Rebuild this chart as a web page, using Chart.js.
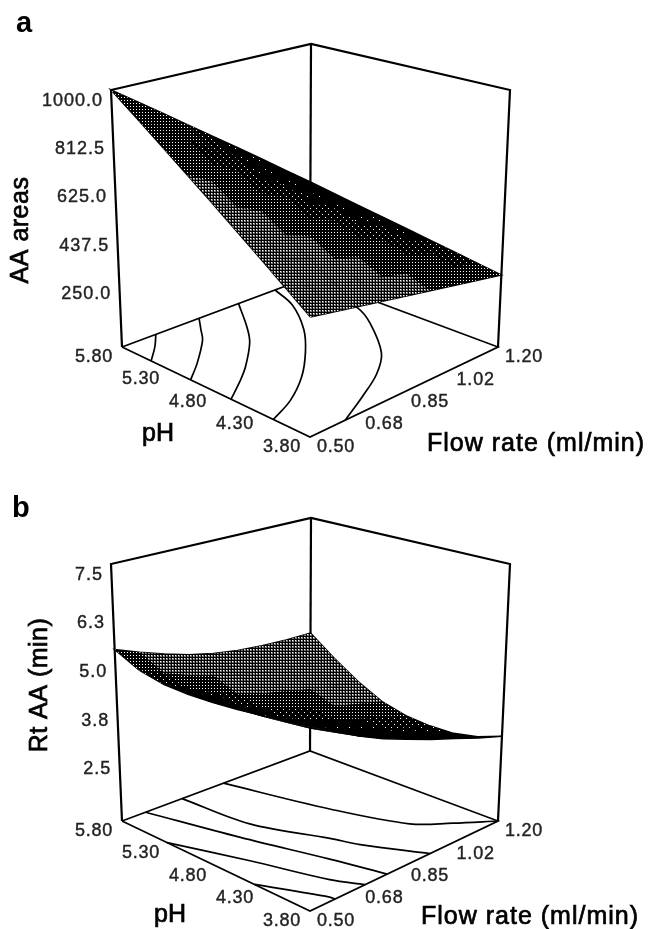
<!DOCTYPE html>
<html>
<head>
<meta charset="utf-8">
<title>AA response surfaces</title>
<script src="https://cdn.jsdelivr.net/npm/chart.js@4"></script>
<style>
  body { margin: 0; background: #fff; }
  canvas { position: absolute; left: 0; }
  #chartA { top: 0; }
  #chartB { top: 474px; }
</style>
</head>
<body>
<canvas id="chartA" width="649" height="470"></canvas>
<canvas id="chartB" width="649" height="455"></canvas>
<script>
const phTicks = [5.8, 5.3, 4.8, 4.3, 3.8];
const flowTicks = [0.5, 0.68, 0.85, 1.02, 1.2];
const aaTicks = [1000, 812.5, 625, 437.5, 250];
const rtTicks = [7.5, 6.25, 5, 3.75, 2.5];

// surface grid, rows run along phGrid, columns along flowGrid
const phGrid = [3.8, 4.05, 4.3, 4.55, 4.8, 5.05, 5.3, 5.55, 5.8];
const flowGrid = [0.5, 0.5875, 0.675, 0.7625, 0.85, 0.9375, 1.025, 1.1125, 1.2];

const aaSurface = [
    [427, 410, 393, 375, 357, 338, 319, 300, 280],
    [493, 468, 443, 418, 394, 370, 345, 320, 295],
    [561, 530, 498, 467, 436, 404, 373, 341, 310],
    [630, 592, 554, 516, 478, 440, 401, 363, 325],
    [701, 656, 611, 566, 521, 476, 431, 386, 341],
    [773, 721, 669, 617, 565, 513, 461, 409, 357],
    [847, 788, 729, 669, 610, 551, 492, 432, 373],
    [923, 856, 790, 723, 657, 590, 523, 457, 390],
    [1000, 932, 863, 791, 718, 644, 567, 488, 408]
];
const rtSurface = [
    [5.25, 4.90, 4.55, 4.25, 4.00, 3.75, 3.52, 3.28, 3.06],
    [5.15, 4.77, 4.41, 4.09, 3.82, 3.57, 3.33, 3.08, 2.85],
    [5.05, 4.67, 4.29, 3.97, 3.70, 3.45, 3.20, 2.95, 2.73],
    [4.96, 4.58, 4.21, 3.89, 3.63, 3.38, 3.15, 2.92, 2.72],
    [4.90, 4.53, 4.17, 3.87, 3.63, 3.40, 3.18, 2.97, 2.78],
    [4.87, 4.53, 4.20, 3.92, 3.70, 3.50, 3.30, 3.12, 2.95],
    [4.88, 4.58, 4.29, 4.04, 3.85, 3.69, 3.53, 3.40, 3.28],
    [5.00, 4.74, 4.50, 4.29, 4.12, 3.98, 3.87, 3.78, 3.72],
    [5.30, 5.05, 4.82, 4.62, 4.46, 4.35, 4.28, 4.24, 4.23]
];

// contour lines on the floor of each box, as [pH values, flow values]
const aaContour1 = [[5.80, 5.65, 5.49], [0.626, 0.57, 0.50]];
const aaContour2 = [[5.80, 5.64, 5.50, 5.24, 5.07], [0.787, 0.738, 0.695, 0.584, 0.50]];
const aaContour3 = [[5.80, 5.43, 5.23, 4.95, 4.80, 4.64], [0.934, 0.837, 0.776, 0.662, 0.588, 0.50]];
const aaContour4 = [[5.80, 5.50, 5.12, 4.82, 4.54, 4.32, 4.19], [1.07, 1.03, 0.939, 0.84, 0.728, 0.609, 0.50]];
const aaContour5 = [[5.60, 5.12, 4.84, 4.40, 4.17, 3.98, 3.80], [1.17, 1.138, 1.088, 0.976, 0.878, 0.759, 0.631]];
const rtContour1 = [[5.80, 4.91, 4.28, 4.04, 3.80], [0.878, 0.962, 1.039, 1.116, 1.20]];
const rtContour2 = [[5.80, 5.14, 4.54, 4.30, 3.80], [0.724, 0.745, 0.833, 0.862, 0.947]];
const rtContour3 = [[5.80, 5.02, 4.29, 3.80], [0.588, 0.668, 0.745, 0.787]];
const rtContour4 = [[5.32, 4.69, 4.05, 3.80], [0.50, 0.588, 0.661, 0.705]];
const rtContour5 = [[4.39, 3.85, 3.80], [0.50, 0.591, 0.593]];

// box corners on the page, the picture has some perspective so a plain oblique axis won't do
const floorCorners = { left: [122, 347], back: [310, 277], right: [498, 347], front: [310, 437] };
const topCorners = { left: [111, 90], back: [311, 44], right: [510, 90], front: [311, 156] };

function blend(c, s, t, k) {
    return c.left[k] * (1 - s) * (1 - t) + c.back[k] * s * (1 - t) + c.front[k] * (1 - s) * t + c.right[k] * s * t;
}

function project(ph, flow, z, zFloor, zTop) {
    const t = (5.8 - ph) / 2;
    const s = (flow - 0.5) / 0.7;
    const f = (z - zFloor) / (zTop - zFloor);
    return {
        x: blend(floorCorners, s, t, 0) * (1 - f) + blend(topCorners, s, t, 0) * f,
        y: blend(floorCorners, s, t, 1) * (1 - f) + blend(topCorners, s, t, 1) * f
    };
}

function makePattern(size, dots) {
    const tile = document.createElement('canvas');
    tile.width = size;
    tile.height = size;
    const c = tile.getContext('2d');
    c.fillStyle = '#000';
    c.fillRect(0, 0, size, size);
    dots.forEach(d => {
        c.fillStyle = d[3] || '#fff';
        c.fillRect(d[0], d[1], d[2], d[2]);
    });
    return c.createPattern(tile, 'repeat');
}

const ctxPatterns = [
    '#000',
    makePattern(12, [[1, 1, 1], [7, 4, 1]]),
    makePattern(6, [[1, 1, 1], [4, 4, 1]]),
    makePattern(6, [[1, 1, 1], [4, 1, 1], [1, 4, 1], [4, 4, 1], [1, 7, 1]]),
    makePattern(3, [[1, 1, 1]]),
    makePattern(3, [[1, 1, 2, '#777'], [1, 1, 1, '#fff']])
];

function cellArea(p) {
    let a = 0;
    p.forEach((q, i) => {
        const r = p[(i + 1) % p.length];
        a += q.x * r.y - r.x * q.y;
    });
    return Math.abs(a) / 2;
}

function patternFor(area, steps) {
    let level = 0;
    steps.forEach((s, i) => { if (area > s) level = i + 1; });
    return ctxPatterns[level];
}

function lineSet(points, width) {
    return {
        data: points,
        borderColor: '#000',
        borderWidth: width,
        pointRadius: 0,
        fill: false
    };
}

function buildDatasets(surface, contours, zFloor, zTop, steps) {
    const P = (ph, flow, z) => project(ph, flow, z, zFloor, zTop);
    const sets = [];
    const n = phGrid.length;

    // front cells first, chart.js paints dataset 0 last
    for (let i = 0; i < n - 1; i++) {
        for (let j = 0; j < n - 1; j++) {
            const quad = [
                P(phGrid[i], flowGrid[j], surface[i][j]),
                P(phGrid[i], flowGrid[j + 1], surface[i][j + 1]),
                P(phGrid[i + 1], flowGrid[j + 1], surface[i + 1][j + 1]),
                P(phGrid[i + 1], flowGrid[j], surface[i + 1][j])
            ];
            sets.push({
                data: quad.concat([quad[0]]),
                borderWidth: 0,
                pointRadius: 0,
                backgroundColor: patternFor(cellArea(quad), steps),
                fill: 'shape'
            });
        }
    }

    // solid outline under the cells so no seams show
    const rim = [];
    for (let j = 0; j < n; j++) rim.push(P(phGrid[0], flowGrid[j], surface[0][j]));
    for (let i = 1; i < n; i++) rim.push(P(phGrid[i], flowGrid[n - 1], surface[i][n - 1]));
    for (let j = n - 2; j >= 0; j--) rim.push(P(phGrid[n - 1], flowGrid[j], surface[n - 1][j]));
    for (let i = n - 2; i >= 0; i--) rim.push(P(phGrid[i], flowGrid[0], surface[i][0]));
    sets.push({
        data: rim,
        borderColor: '#000',
        borderWidth: 1.5,
        pointRadius: 0,
        backgroundColor: '#000',
        fill: 'shape'
    });

    contours.forEach(c => {
        const pts = c[0].map((ph, i) => P(ph, c[1][i], zFloor));
        const set = lineSet(pts, 1.7);
        set.tension = 0.35;
        sets.push(set);
    });

    // box edges
    const corners = [[5.8, 0.5], [5.8, 1.2], [3.8, 1.2], [3.8, 0.5]];
    sets.push(lineSet([P(5.8, 0.5, zFloor), P(5.8, 0.5, zTop), P(5.8, 1.2, zTop), P(3.8, 1.2, zTop), P(3.8, 1.2, zFloor)], 2.2));
    sets.push(lineSet([P(5.8, 1.2, zTop), P(5.8, 1.2, zFloor)], 2.2));
    sets.push(lineSet(corners.concat([corners[0]]).map(c => P(c[0], c[1], zFloor)), 1.7));
    return sets;
}

function heavyText(ctx, text, x, y, weight) {
    ctx.lineWidth = weight;
    ctx.strokeText(text, x, y);
    ctx.fillText(text, x, y);
}

// the box axes are oblique so their labels are placed by hand from the scales
const boxLabels = {
    id: 'boxLabels',
    afterDraw(chart, args, opts) {
        const { ctx, scales } = chart;
        const px = p => [scales.x.getPixelForValue(p.x), scales.y.getPixelForValue(p.y)];
        ctx.save();
        ctx.fillStyle = '#222';
        ctx.strokeStyle = '#222';
        ctx.textBaseline = 'middle';

        ctx.font = '18px "Liberation Sans"';
        ctx.letterSpacing = '1px';
        ctx.textAlign = 'right';
        opts.zTicks.forEach(v => {
            const [x, y] = px(project(5.8, 0.5, v, opts.zFloor, opts.zTop));
            heavyText(ctx, v.toFixed(1), x - 8, y + 11, 0.4);
        });

        ctx.letterSpacing = '0.8px';
        ctx.textAlign = 'center';
        phTicks.forEach(v => {
            const [x, y] = px(project(v, 0.5, opts.zFloor, opts.zFloor, opts.zTop));
            heavyText(ctx, v.toFixed(2), x - 28, y + 10, 0.4);
        });
        flowTicks.forEach(v => {
            const [x, y] = px(project(3.8, v, opts.zFloor, opts.zFloor, opts.zTop));
            heavyText(ctx, v.toFixed(2), x + 26, y + 10, 0.4);
        });

        ctx.fillStyle = '#000';
        ctx.strokeStyle = '#000';
        ctx.font = '25px "Liberation Sans"';
        ctx.letterSpacing = '1px';
        heavyText(ctx, 'Flow rate (ml/min)', opts.flowPos[0], opts.flowPos[1], 0.7);
        ctx.letterSpacing = '0px';
        heavyText(ctx, 'pH', opts.phPos[0], opts.phPos[1], 0.7);

        ctx.save();
        ctx.translate(opts.zPos[0], opts.zPos[1]);
        ctx.rotate(-Math.PI / 2);
        ctx.letterSpacing = '0.5px';
        heavyText(ctx, opts.zTitle, 0, 0, 0.7);
        ctx.restore();

        ctx.letterSpacing = '0px';
        ctx.font = 'bold 29px "Liberation Sans"';
        ctx.textAlign = 'left';
        ctx.textBaseline = 'alphabetic';
        ctx.fillText(opts.letter, opts.letterPos[0], opts.letterPos[1]);
        ctx.restore();
    }
};

function renderPanel(id, height, surface, contours, steps, labels) {
    const ctx = document.getElementById(id).getContext('2d');
    return new Chart(ctx, {
        type: 'line',
        data: { datasets: buildDatasets(surface, contours, labels.zFloor, labels.zTop, steps) },
        plugins: [boxLabels],
        options: {
            responsive: false,
            animation: false,
            parsing: false,
            normalized: true,
            layout: { padding: 0 },
            scales: {
                x: { type: 'linear', display: false, min: 0, max: 649 },
                y: { type: 'linear', display: false, min: 0, max: height, reverse: true }
            },
            plugins: {
                legend: { display: false },
                tooltip: { enabled: false },
                boxLabels: labels
            }
        }
    });
}

renderPanel('chartA', 470, aaSurface,
    [aaContour1, aaContour2, aaContour3, aaContour4, aaContour5],
    [200, 290, 370, 440, 520],
    {
        zTicks: aaTicks, zFloor: 0, zTop: 1000, zTitle: 'AA areas',
        zPos: [21, 230], phPos: [158, 434], flowPos: [536, 444],
        letter: 'a', letterPos: [16, 32]
    });

renderPanel('chartB', 455, rtSurface,
    [rtContour1, rtContour2, rtContour3, rtContour4, rtContour5],
    [150, 240, 310, 380, 460],
    {
        zTicks: rtTicks, zFloor: 0.88, zTop: 7.5, zTitle: 'Rt AA (min)',
        zPos: [40, 211], phPos: [170, 441], flowPos: [530, 443],
        letter: 'b', letterPos: [12, 43]
    });
</script>
</body>
</html>
